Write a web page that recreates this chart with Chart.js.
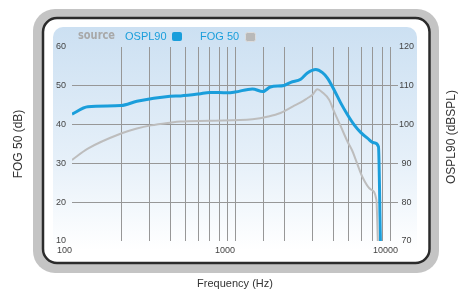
<!DOCTYPE html>
<html>
<head>
<meta charset="utf-8">
<script src="https://cdn.jsdelivr.net/npm/chart.js@4.4.0/dist/chart.umd.min.js"></script>
<style>
  html, body { margin: 0; padding: 0; background: #fff; }
</style>
</head>
<body>
<canvas id="fogChart" width="461" height="291"></canvas>
<script>
// OSPL90 curve (dBSPL)
var osplFreq = [100, 125, 200, 250, 400, 464, 600, 700, 900, 1000, 1280, 1480, 1650, 2000, 2200, 2530, 2780, 3130, 3440, 3690, 4050, 4450, 4890, 5370, 5900, 6490, 7130, 7590, 7800];
var osplValues = [102.7, 104.6, 104.9, 106.0, 107.3, 107.4, 107.9, 108.3, 108.2, 108.4, 109.2, 108.5, 109.7, 110.1, 110.9, 111.7, 113.3, 114.2, 113.4, 112.0, 109.0, 105.6, 102.6, 100.0, 98.0, 96.5, 95.3, 94.3, 70];

// FOG 50 curve (dB)
var fogFreq = [100, 125, 200, 250, 305, 400, 464, 700, 1280, 1600, 1900, 2270, 2530, 2780, 2990, 3200, 3440, 3780, 4050, 4450, 4890, 5250, 5500, 6050, 6800, 7370, 7520];
var fogValues = [30.9, 33.8, 37.7, 39.0, 39.8, 40.5, 40.8, 41.0, 41.4, 42.1, 43.0, 44.7, 45.7, 46.8, 47.7, 49.1, 48.3, 46.4, 43.4, 39.6, 35.7, 33.2, 31.0, 26.5, 23.3, 20.6, 10];

// only the decades get a label on the frequency axis
var freqLabels = [100, 1000, 10000];

var blue = '#1a9edb';
var gray = '#bdbdbd';
var gridGray = '#979797';

function toPoints(xs, ys) {
    return xs.map(function (x, i) { return { x: x, y: ys[i] }; });
}

function isDecade(v) {
    var l = Math.log10(v);
    return Math.abs(l - Math.round(l)) < 1e-6;
}

// frame, panel, legend and right title are drawn around the chart
var framePlugin = {
    id: 'frame',
    beforeDraw: function (chart) {
        var c = chart.ctx;
        c.save();
        // grey outer frame
        c.beginPath();
        c.roundRect(33, 9, 406, 264, 22);
        c.fillStyle = '#c4c4c4';
        c.fill();
        // white card with dark edge
        c.beginPath();
        c.roundRect(43, 18, 386.5, 245, 14);
        c.fillStyle = '#ffffff';
        c.fill();
        c.lineWidth = 2.5;
        c.strokeStyle = '#2b2b2b';
        c.stroke();
        // light blue plot panel
        var g = c.createLinearGradient(0, 27, 0, 250);
        g.addColorStop(0, '#cce0f2');
        g.addColorStop(0.6, '#e6f0f9');
        g.addColorStop(1, '#ffffff');
        c.beginPath();
        c.roundRect(53, 27, 364, 222, [10, 10, 0, 0]);
        c.fillStyle = g;
        c.fill();
        c.restore();
    },
    afterDraw: function (chart) {
        var c = chart.ctx;
        c.save();
        c.textBaseline = 'middle';
        c.textAlign = 'left';

        // "source" tag, squeezed to its width in the picture
        c.font = 'bold 13px "Liberation Sans Narrow", "DejaVu Sans Condensed", Arial, sans-serif';
        c.fillStyle = '#a8a8a8';
        var w = c.measureText('source').width;
        c.save();
        c.translate(78, 36);
        c.scale(37 / w, 1);
        c.fillText('source', 0, 0);
        c.restore();

        c.font = '11px Arial, "Liberation Sans", sans-serif';
        c.fillStyle = blue;
        c.fillText('OSPL90', 125, 36.5);
        c.fillText('FOG 50', 200, 36.5);

        c.beginPath();
        c.roundRect(172, 32, 10, 9, 2);
        c.fillStyle = blue;
        c.fill();

        c.beginPath();
        c.roundRect(245.5, 32.5, 10, 9, 2);
        c.fillStyle = '#b9b9b9';
        c.fill();
        c.lineWidth = 1;
        c.strokeStyle = '#dcdcdc';
        c.stroke();

        // right axis title reads bottom to top
        c.translate(452, 137);
        c.rotate(-Math.PI / 2);
        c.textAlign = 'center';
        c.fillStyle = '#333';
        c.font = '12px Arial, "Liberation Sans", sans-serif';
        c.fillText('OSPL90 (dBSPL)', 0, 0);
        c.restore();
    }
};

var ctx = document.getElementById('fogChart').getContext('2d');

var myChart = new Chart(ctx, {
    type: 'line',
    data: {
        datasets: [{
            label: 'FOG 50',
            data: toPoints(fogFreq, fogValues),
            yAxisID: 'yL',
            borderColor: gray,
            borderWidth: 2,
            pointRadius: 0,
            cubicInterpolationMode: 'monotone'
        }, {
            label: 'OSPL90',
            data: toPoints(osplFreq, osplValues),
            yAxisID: 'yR',
            borderColor: blue,
            borderWidth: 3,
            pointRadius: 0,
            cubicInterpolationMode: 'monotone'
        }]
    },
    options: {
        responsive: false,
        animation: false,
        layout: { padding: { top: 47, left: 0, right: 0, bottom: 0 } },
        plugins: {
            legend: { display: false },
            tooltip: { enabled: false }
        },
        scales: {
            x: {
                type: 'logarithmic',
                min: 100,
                max: 10000,
                border: { display: false },
                grid: {
                    drawTicks: false,
                    color: function (c) {
                        var v = c.tick ? c.tick.value : 0;
                        return (v === 100 || v === 10000) ? 'rgba(0,0,0,0)' : gridGray;
                    }
                },
                ticks: {
                    autoSkip: false,
                    maxRotation: 0,
                    align: 'end',
                    padding: 4,
                    color: '#444',
                    font: { size: 9, family: 'Arial' },
                    callback: function (v) {
                        return (isDecade(v) && freqLabels.indexOf(Math.round(v)) >= 0) ? String(Math.round(v)) : '';
                    }
                },
                title: {
                    display: true,
                    text: 'Frequency (Hz)',
                    color: '#333',
                    font: { size: 11, family: 'Arial' },
                    padding: { top: 0, bottom: 0 }
                },
                afterFit: function (s) { s.height = 50; }
            },
            yL: {
                position: 'left',
                min: 10,
                max: 60,
                border: { display: false },
                grid: {
                    drawTicks: false,
                    color: function (c) {
                        var v = c.tick ? c.tick.value : 0;
                        return (v === 10 || v === 60) ? 'rgba(0,0,0,0)' : gridGray;
                    }
                },
                ticks: {
                    stepSize: 10,
                    padding: 6,
                    color: '#444',
                    font: { size: 9, family: 'Arial' }
                },
                title: {
                    display: true,
                    text: 'FOG 50 (dB)',
                    color: '#333',
                    font: { size: 12, family: 'Arial' },
                    padding: { top: 11, bottom: 0 }
                },
                afterFit: function (s) { s.width = 72; }
            },
            yR: {
                position: 'right',
                min: 70,
                max: 120,
                border: { display: false },
                grid: { drawOnChartArea: false, drawTicks: false },
                ticks: {
                    stepSize: 10,
                    padding: 1,
                    crossAlign: 'center',
                    color: '#444',
                    font: { size: 9, family: 'Arial' }
                },
                afterFit: function (s) { s.width = 63; }
            }
        }
    },
    plugins: [framePlugin]
});
</script>
</body>
</html>
